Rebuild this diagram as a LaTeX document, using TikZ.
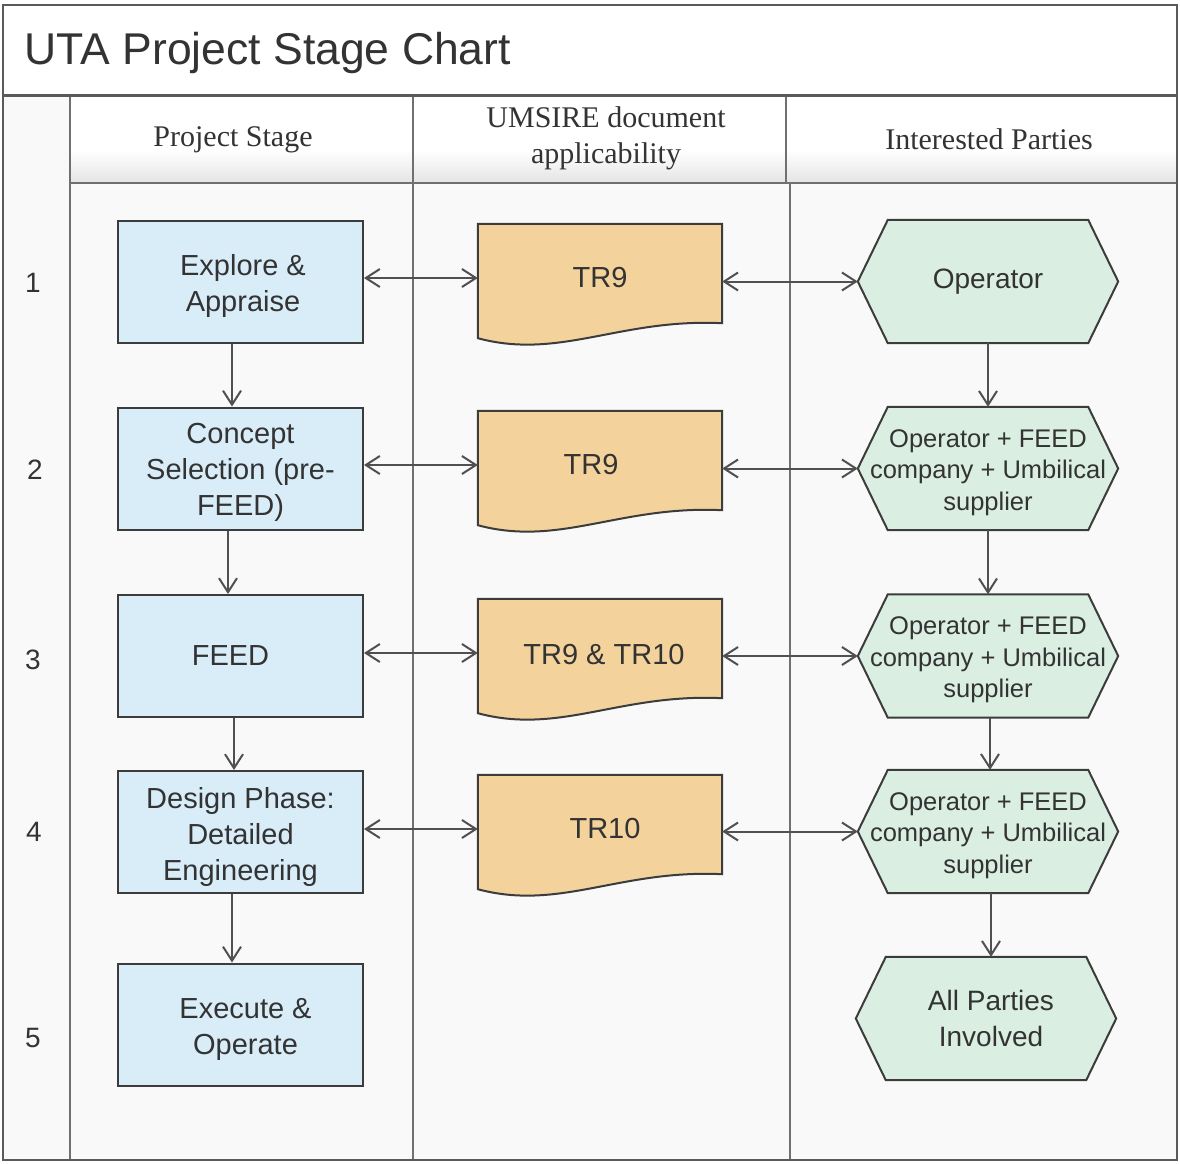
\documentclass[tikz,border=0pt]{standalone}
\usepackage{fontspec}
\setmainfont{Liberation Sans}
\newfontfamily\hdrfont{Liberation Serif}
\usetikzlibrary{arrows.meta,calc}
\pgfdeclarelayer{back}
\pgfdeclarelayer{mid}
\pgfsetlayers{back,mid,main}
\definecolor{bluefill}{HTML}{D9EDF9}
\definecolor{docfill}{HTML}{F3D29B}
\definecolor{hexfill}{HTML}{DAEEE2}
\definecolor{shapeline}{HTML}{3C3C3C}
\definecolor{gridline}{HTML}{707070}
\definecolor{frameline}{HTML}{5A5A5A}
\definecolor{arrgray}{HTML}{505050}
\definecolor{txt}{HTML}{333333}
\definecolor{bodyfill}{HTML}{F9F9F9}
\definecolor{hdrgray}{HTML}{E4E4E4}
\newcommand\shiftdown[2]{\raisebox{-#1}[\height][\depth]{\begin{tabular}{@{}c@{}}#2\end{tabular}}}
\tikzset{
  stagebox/.style={draw=shapeline, line width=2pt, fill=bluefill, minimum width=245pt, minimum height=122pt,
    inner sep=0pt, align=center, text=txt, font=\fontsize{29}{36}\selectfont},
  docnode/.style={minimum width=244pt, minimum height=108pt, inner sep=0pt, align=center, text=txt,
    font=\fontsize{29}{36}\selectfont},
  docshape/.style={draw=shapeline, line width=2pt, fill=docfill},
  hexnode/.style={minimum width=260pt, minimum height=123pt, inner sep=0pt, align=center, text=txt,
    font=\fontsize{25.5}{31.5}\selectfont},
  hexbig/.style={font=\fontsize{28}{36}\selectfont},
  hexshape/.style={draw=shapeline, line width=2pt, fill=hexfill},
  arr/.style={draw=arrgray, line width=2pt, {Straight Barb[length=14pt,width=18pt]}-{Straight Barb[length=14pt,width=18pt]}},
  down/.style={draw=arrgray, line width=2pt, -{Straight Barb[length=14pt,width=18pt]}},
  numlabel/.style={text=txt, font=\fontsize{28}{34}\selectfont},
  hdr/.style={text=txt, align=center, font=\hdrfont\fontsize{30}{36}\selectfont},
  grid/.style={draw=gridline, line width=2pt}
}
\begin{document}
\begin{tikzpicture}[x=1pt,y=-1pt]
\useasboundingbox (0,0) rectangle (1180,1163);
\begin{pgfonlayer}{back}
  \fill[white] (0,0) rectangle (1180,1163);
  \fill[bodyfill] (3,95) rectangle (1177,1160);
  \fill[white] (70,97) rectangle (1177,150);
  \shade[top color=white, bottom color=hdrgray] (70,150) rectangle (1177,183);
  \draw[grid] (70,95) -- (70,1160);
  \draw[grid] (70,183) -- (1177,183);
  \draw[grid] (413,95) -- (413,1160);
  \draw[grid] (786,95) -- (786,183);
  \draw[grid] (790,183) -- (790,1160);
  \draw[draw=frameline, line width=3pt] (3,95) -- (1177,95);
  \draw[draw=frameline, line width=2pt] (3,5) rectangle (1177,1160);
\end{pgfonlayer}

% title and headers
\node[anchor=base west, text=txt, font=\fontsize{44.5}{50}\selectfont] (title) at (21,64) {UTA Project Stage Chart};
\node[hdr] (hstage) at (233,140) {Project Stage};
\node[hdr] (hdoc) at (606,138) {UMSIRE document\\applicability};
\node[hdr] (hpart) at (989,139) {Interested Parties};

% stage numbers
\node[numlabel] (n1) at (33,283) {1};
\node[numlabel] (n2) at (35,470) {2};
\node[numlabel] (n3) at (33,660) {3};
\node[numlabel] (n4) at (34,832) {4};
\node[numlabel] (n5) at (33,1038) {5};

% project stages
\node[stagebox] (b1) at (240.5,282) {\shiftdown{4pt}{\hspace*{5pt}Explore \&\\\hspace*{5pt}Appraise}};
\node[stagebox] (b2) at (240.5,468.5) {\shiftdown{4pt}{Concept\\Selection (pre-\\FEED)}};
\node[stagebox] (b3) at (240.5,656) {\hspace*{0pt}FEED\hspace*{20pt}};
\node[stagebox] (b4) at (240.5,832) {\shiftdown{5pt}{Design Phase:\\Detailed\\Engineering}};
\node[stagebox] (b5) at (240.5,1024.5) {\shiftdown{5pt}{\hspace*{10pt}Execute \&\\\hspace*{10pt}Operate}};

% documents
\node[docnode] (d1) at (600,278) {TR9};
\node[docnode] (d2) at (600,465) {\shiftdown{2pt}{TR9\hspace*{18pt}}};
\node[docnode] (d3) at (600,653) {\shiftdown{4pt}{\hspace*{8pt}TR9 \& TR10}};
\node[docnode] (d4) at (600,829) {\hspace*{10pt}TR10};

% interested parties
\node[hexnode, hexbig] (h1) at (988,281.5) {Operator};
\node[hexnode] (h2) at (988,468.5) {\shiftdown{4pt}{Operator + FEED\\company + Umbilical\\supplier}};
\node[hexnode] (h3) at (988,656) {\shiftdown{4pt}{Operator + FEED\\company + Umbilical\\supplier}};
\node[hexnode] (h4) at (988,831.5) {\shiftdown{4pt}{Operator + FEED\\company + Umbilical\\supplier}};
\node[hexnode, hexbig] (h5) at (986,1018.5) {\hspace*{10pt}All Parties\\\hspace*{10pt}Involved};

\begin{pgfonlayer}{mid}
  \foreach \d in {d1,d2,d3,d4} {
    \path[docshape] (\d.north west) -- (\d.north east) -- ($(\d.south east)+(0,-9)$)
      .. controls ($(\d.south west)+(142,-14)$) and ($(\d.south west)+(82,28)$) .. ($(\d.south west)+(0,6)$) -- cycle;
  }
  \foreach \h in {h1,h2,h3,h4,h5} {
    \path[hexshape] ($(\h.north west)+(30,0)$) -- ($(\h.north east)+(-30,0)$) -- (\h.east)
      -- ($(\h.south east)+(-30,0)$) -- ($(\h.south west)+(30,0)$) -- (\h.west) -- cycle;
  }
\end{pgfonlayer}

% horizontal connectors
\draw[arr] (d1.west -| b1.east) -- (d1.west);
\draw[arr] (d2.west -| b2.east) -- (d2.west);
\draw[arr] (d3.west -| b3.east) -- (d3.west);
\draw[arr] (d4.west -| b4.east) -- (d4.west);
\draw[arr] (h1.west -| d1.east) -- (h1.west);
\draw[arr] (h2.west -| d2.east) -- (h2.west);
\draw[arr] (h3.west -| d3.east) -- (h3.west);
\draw[arr] (h4.west -| d4.east) -- (h4.west);

% vertical connectors
\draw[down] ([xshift=-8.5pt]b1.south) -- ([xshift=-8.5pt]b2.north);
\draw[down] ([xshift=-12.5pt]b2.south) -- ([xshift=-12.5pt]b3.north);
\draw[down] ([xshift=-6.5pt]b3.south) -- ([xshift=-6.5pt]b4.north);
\draw[down] ([xshift=-8.5pt]b4.south) -- ([xshift=-8.5pt]b5.north);
\draw[down] (h1.south) -- (h2.north);
\draw[down] (h2.south) -- (h3.north);
\draw[down] ([xshift=2pt]h3.south) -- ([xshift=2pt]h4.north);
\draw[down] ([xshift=3pt]h4.south) -- ([xshift=3pt]h4.south |- h5.north);
\end{tikzpicture}
\end{document}
